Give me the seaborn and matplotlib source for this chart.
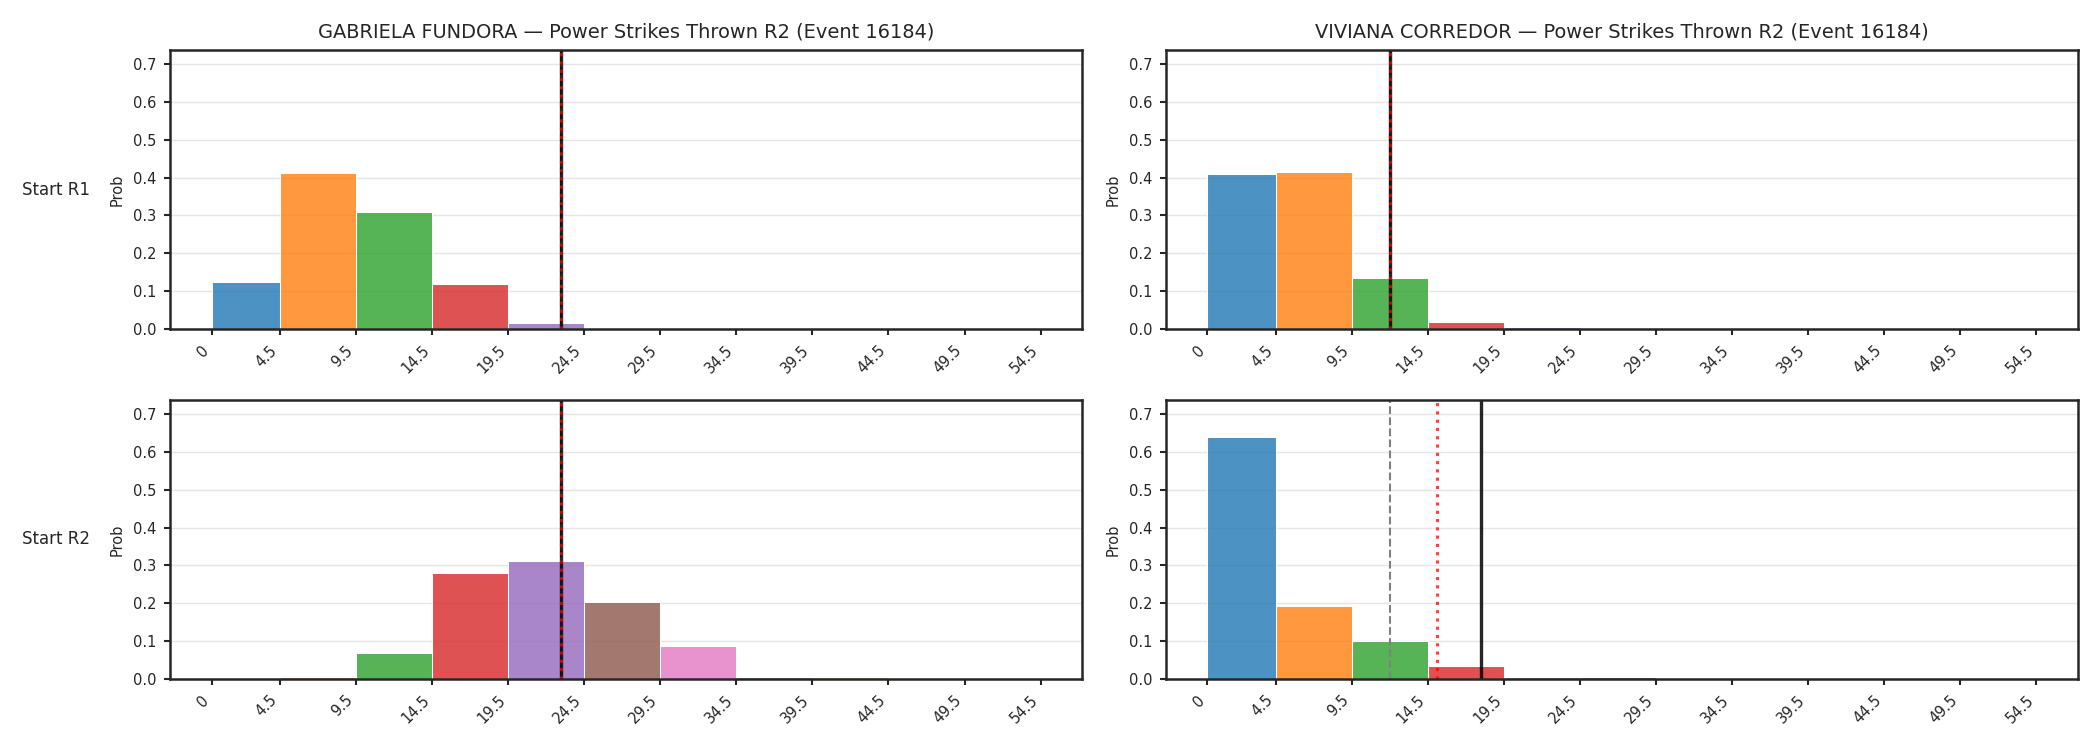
import pandas as pd
import matplotlib
matplotlib.use("Agg")
import matplotlib.pyplot as plt
import seaborn as sns

sns.set_theme(style="ticks")
plt.rcParams["font.family"] = ["DejaVu Sans"]

# bin edges of power strikes thrown
edges = [0, 4.5, 9.5, 14.5, 19.5, 24.5, 29.5, 34.5, 39.5, 44.5, 49.5, 54.5]
tick_labels = ["0", "4.5", "9.5", "14.5", "19.5", "24.5", "29.5", "34.5", "39.5", "44.5", "49.5", "54.5"]

fighters = ["GABRIELA FUNDORA", "VIVIANA CORREDOR"]
row_labels = ["Start R1", "Start R2"]
event_id = 16184

# probability per bin
gab_r1 = [0.124, 0.413, 0.310, 0.119, 0.016, 0.0, 0.0, 0.0, 0.0, 0.0, 0.0]
viv_r1 = [0.409, 0.414, 0.135, 0.019, 0.005, 0.0, 0.0, 0.0, 0.0, 0.0, 0.0]
gab_r2 = [0.0, 0.005, 0.069, 0.280, 0.312, 0.203, 0.087, 0.005, 0.005, 0.0, 0.0]
viv_r2 = [0.640, 0.192, 0.101, 0.034, 0.005, 0.005, 0.0, 0.0, 0.0, 0.0, 0.0]

# reference lines per row: betting line, model mean, actual
gab_lines = {"line": [23.0, 23.0], "mean": [23.0, 23.0], "actual": [23.0, 23.0]}
viv_lines = {"line": [12.0, 12.0], "mean": [12.0, 15.1], "actual": [12.0, 18.0]}

probs = [[gab_r1, viv_r1], [gab_r2, viv_r2]]
lines = [gab_lines, viv_lines]

palette = sns.color_palette("tab10", len(edges) - 1)

fig, axes = plt.subplots(2, 2, figsize=(14, 5), dpi=150)
fig.subplots_adjust(left=0.081, right=0.9895, top=0.9333, bottom=0.0947,
                    wspace=0.092, hspace=0.254)

for r in range(2):
    for c in range(2):
        ax = axes[r, c]
        df = pd.DataFrame({
            "strikes": edges[:-1],
            "prob": probs[r][c],
            "bin": list(range(len(edges) - 1)),
        })
        sns.histplot(data=df, x="strikes", weights="prob", hue="bin", bins=edges,
                     palette=palette, multiple="layer", alpha=0.8,
                     edgecolor="white", linewidth=0.5, legend=False, ax=ax)

        lv = lines[c]
        ax.axvline(lv["line"][r], color="gray", linestyle="--", linewidth=1.0)
        ax.axvline(lv["actual"][r], color="black", alpha=0.85, linewidth=1.6)
        ax.axvline(lv["mean"][r], color="red", alpha=0.75, linestyle=":", linewidth=1.5)

        ax.set_ylim(0, 0.737)
        ax.set_xticks(edges)
        ax.set_xticklabels(tick_labels, rotation=45, ha="right")
        ax.tick_params(axis="both", labelsize=7, length=3, width=1.0)
        ax.set_xlabel("")
        ax.set_ylabel("Prob", fontsize=7)
        ax.grid(axis="y", color="#e6e6e6", linewidth=0.7)
        ax.set_axisbelow(True)
        for s in ax.spines.values():
            s.set_linewidth(1.2)
            s.set_color("#262626")

        if r == 0:
            ax.set_title(f"{fighters[c]} \u2014 Power Strikes Thrown R2 (Event {event_id})",
                         fontsize=9.3)
        if c == 0:
            ax.text(-0.088, 0.5, row_labels[r], transform=ax.transAxes,
                    ha="right", va="center", fontsize=8)

fig.savefig("out.png", dpi=150)
